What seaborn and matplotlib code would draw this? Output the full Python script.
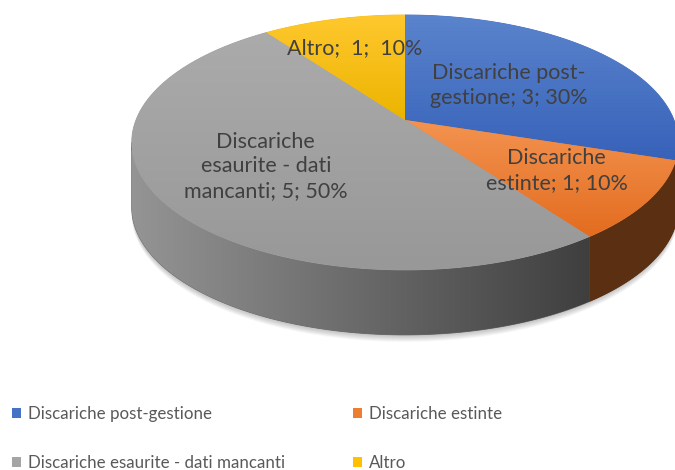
import numpy as np
import matplotlib
matplotlib.use("Agg")
import matplotlib.pyplot as plt
import seaborn as sns
from matplotlib.patches import Polygon, Patch
from matplotlib.colors import to_rgb

# ---- data ----
categories = ["Discariche post-gestione", "Discariche estinte",
              "Discariche esaurite - dati mancanti", "Altro"]
values = [3, 1, 5, 1]
label_names = ["Discariche post-\ngestione", "Discariche\nestinte",
               "Discariche\nesaurite - dati\nmancanti", "Altro"]
label_seps = ["; ", "; ", "; ", ";  "]
colors = ["#4472C4", "#ED7D31", "#A5A5A5", "#FFC000"]
top_light = ["#5b84cd", "#f39350", "#ababab", "#ffc82e"]
top_dark = ["#3762b9", "#e36c1f", "#989898", "#ecb400"]
label_r = [0.5, 0.65, 0.6, 0.68]

sns.set_theme(style="white")
plt.rcParams['font.family'] = ['Lato', 'DejaVu Sans']

W, H = 675, 470
fig = plt.figure(figsize=(W / 100, H / 100), dpi=100)
ax = fig.add_axes([0, 0, 1, 1])
ax.set_xlim(0, W)
ax.set_ylim(H, 0)
ax.axis('off')

# 3D projection geometry (layout)
CX, CY, A, B, P, D = 405, 120, 269, 123.5, 0.176, 65


def proj(theta, r=1.0):
    th = np.radians(theta)
    u = r * np.sin(th)
    v = r * np.cos(th)
    w = 1 + P * v
    return CX + A * u / w, CY - B * v / w


def shade(x):
    f = 0.9 - 0.55 * (x - 133) / (560 - 133)
    return float(np.clip(f, 0.38, 0.9))


def grad_fill(xy, c0, c1, horizontal, zorder):
    xy = np.asarray(xy)
    x0, x1 = xy[:, 0].min(), xy[:, 0].max()
    y0, y1 = xy[:, 1].min(), xy[:, 1].max()
    c0 = np.array(to_rgb(c0))
    c1 = np.array(to_rgb(c1))
    base = Polygon(xy, closed=True, fc=(c0 + c1) / 2, ec=(c0 + c1) / 2,
                   lw=0.6, zorder=zorder)
    ax.add_patch(base)
    t = np.linspace(0, 1, 256)[:, None]
    cols = c0 * (1 - t) + c1 * t
    img = cols[None, :, :] if horizontal else cols[:, None, :]
    im = ax.imshow(img, extent=(x0, x1, y1, y0), origin='upper',
                   aspect='auto', interpolation='bilinear', zorder=zorder + 0.1)
    im.set_clip_path(base)


total = sum(values)
bounds = np.concatenate([[0], np.cumsum(values)]) / total * 360
sil = np.degrees(np.arccos(-P))
vis_lo, vis_hi = sil, 360 - sil

# soft shadow
full = np.linspace(0, 360, 361)
for k in range(1, 8):
    xs, ys = proj(full)
    ax.fill(xs, ys + D + k, color='black', alpha=0.035, lw=0, zorder=0)

# sides
for i in range(len(values)):
    lo, hi = max(bounds[i], vis_lo), min(bounds[i + 1], vis_hi)
    if hi <= lo:
        continue
    th = np.linspace(lo, hi, 120)
    xs, ys = proj(th)
    xy = np.column_stack([np.concatenate([xs, xs[::-1]]),
                          np.concatenate([ys, ys[::-1] + D])])
    base = np.array(to_rgb(colors[i]))
    c0 = base * shade(xs.min())
    c1 = base * shade(xs.max())
    grad_fill(xy, c0, c1, True, zorder=1)

# top faces
for i in range(len(values)):
    th = np.linspace(bounds[i], bounds[i + 1], 200)
    xs, ys = proj(th)
    xy = np.column_stack([np.concatenate([[CX], xs]), np.concatenate([[CY], ys])])
    grad_fill(xy, top_light[i], top_dark[i], False, zorder=3)

# data labels
for i in range(len(values)):
    mid = (bounds[i] + bounds[i + 1]) / 2
    lx, ly = proj(mid, label_r[i])
    pct = round(values[i] / total * 100)
    txt = f"{label_names[i]}{label_seps[i]}{values[i]}{label_seps[i]}{pct}%"
    ax.text(lx, ly, txt, ha='center', va='center', fontsize=15.5,
            color='#404040', linespacing=1.3, zorder=10)

ax.set_xlim(0, W)
ax.set_ylim(H, 0)

# legend
handles = [Patch(facecolor=colors[i], edgecolor='none', label=categories[i])
           for i in range(len(categories))]
order = [0, 2, 1, 3]
fig.legend(handles=[handles[i] for i in order], loc='upper left',
           bbox_to_anchor=(12 / W, 1 - 406 / H), ncol=2, frameon=False,
           fontsize=12.2, handlelength=0.55, handleheight=0.55, handletextpad=0.4,
           columnspacing=4.0, labelspacing=1.93, borderaxespad=0, borderpad=0,
           labelcolor='#595959')

fig.savefig("out.png", dpi=100)
